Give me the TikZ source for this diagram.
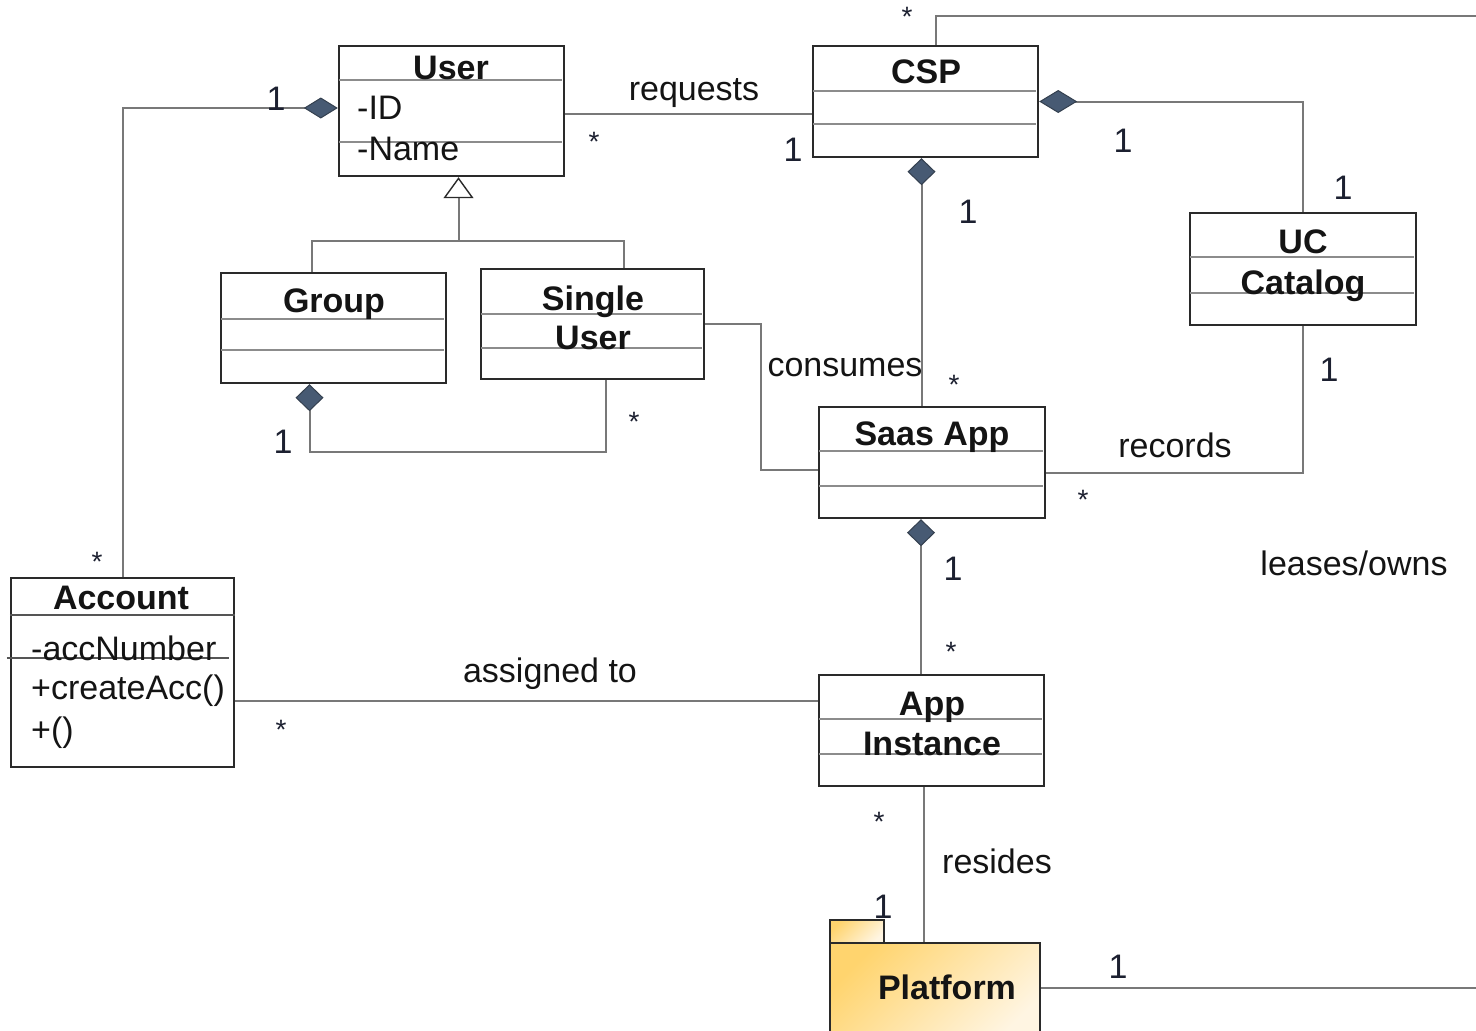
\documentclass[tikz,border=0pt]{standalone}
\usepackage{fontspec}
\setmainfont{Liberation Sans}
\usetikzlibrary{arrows.meta,calc}

\definecolor{boxline}{HTML}{2A2A2A}
\definecolor{sepline}{HTML}{8C8C8C}
\definecolor{conn}{HTML}{787878}
\definecolor{diamfill}{HTML}{475A73}
\definecolor{diamedge}{HTML}{34404F}
\definecolor{ink}{HTML}{141414}
\definecolor{multink}{HTML}{1C2030}
\definecolor{platA}{HTML}{FFD46E}
\definecolor{platB}{HTML}{FFF5E2}

\begin{document}
\begin{tikzpicture}[x=1pt,y=-1pt,
  classbox/.style={draw=boxline, line width=2.4pt, fill=white, inner sep=0pt},
  sep/.style={draw=sepline, line width=2pt},
  title/.style={font=\fontsize{34}{40}\selectfont\bfseries, text=ink, anchor=base, inner sep=0pt},
  attr/.style={font=\fontsize{34}{40}\selectfont, text=ink, anchor=base west, inner sep=0pt},
  lbl/.style={font=\fontsize{34}{40}\selectfont, text=ink, anchor=base, inner sep=0pt},
  mult/.style={font=\fontsize{34}{40}\selectfont, text=multink, anchor=base, inner sep=0pt},
  star/.style={font=\fontsize{28}{32}\selectfont, text=multink, inner sep=0pt},
  assoc/.style={draw=conn, line width=2pt},
  hdiam/.style={arrows={Diamond[length=34pt,width=21pt,fill=diamfill,color=diamedge,line width=1pt]-}},
  hdiambig/.style={arrows={Diamond[length=38pt,width=23pt,fill=diamfill,color=diamedge,line width=1pt]-}},
  vdiam/.style={arrows={Diamond[length=27pt,width=28pt,fill=diamfill,color=diamedge,line width=1pt]-}},
  genarrow/.style={arrows={-Triangle[length=21pt,width=30pt,fill=white,color=boxline,line width=1.4pt]}},
  platbox/.style={draw=boxline, line width=2.2pt, inner sep=0pt,
    top color=platA, bottom color=platB, shading angle=45}
]
\useasboundingbox (0,0) rectangle (1476,1031);

% ---------- classes ----------
\node[classbox, minimum width=225pt, minimum height=130pt] (user)    at (451.5,111)  {};
\node[classbox, minimum width=225pt, minimum height=111pt] (csp)     at (925.5,101.5) {};
\node[classbox, minimum width=225pt, minimum height=110pt] (group)   at (333.5,328)  {};
\node[classbox, minimum width=223pt, minimum height=110pt] (single)  at (592.5,324)  {};
\node[classbox, minimum width=226pt, minimum height=112pt] (uc)      at (1303,269)   {};
\node[classbox, minimum width=226pt, minimum height=111pt] (saas)    at (932,462.5)  {};
\node[classbox, minimum width=225pt, minimum height=111pt] (app)     at (931.5,730.5) {};
\node[classbox, minimum width=223pt, minimum height=189pt] (account) at (122.5,672.5) {};

% compartment separators
\foreach \n/\a/\b in {user/35/97, csp/46/79, group/47/78, single/46/80,
                      uc/45/81, saas/45/80, app/45/80}{
  \draw[sep] ([yshift=-\a pt, xshift=1pt]\n.north west) -- ([yshift=-\a pt, xshift=-3pt]\n.north east);
  \draw[sep] ([yshift=-\b pt, xshift=1pt]\n.north west) -- ([yshift=-\b pt, xshift=-3pt]\n.north east);
}
\draw[sep, draw=boxline!80] ([yshift=-38pt]account.north west) -- ([yshift=-38pt]account.north east);
\draw[sep, draw=boxline!80] ([yshift=-81pt, xshift=-3pt]account.north west) -- ([yshift=-81pt, xshift=-6pt]account.north east);

% package
\node[platbox, minimum width=54pt, minimum height=23pt] (plattab) at (857,931.5) {};
\node[platbox, minimum width=210pt, minimum height=100pt] (platform) at (935,993) {};

% ---------- class texts ----------
\node[title] (tUser)    at (451,79)  {User};
\node[attr]  (aID)      at (357,119) {-ID};
\node[attr]  (aName)    at (357,160) {-Name};
\node[title] (tCSP)     at (926,83)  {CSP};
\node[title] (tGroup)   at (334,312) {Group};
\node[title] (tSingleA) at (593,310) {Single};
\node[title] (tSingleB) at (593,349) {User};
\node[title] (tUCa)     at (1303,253) {UC};
\node[title] (tUCb)     at (1303,294) {Catalog};
\node[title] (tSaas)    at (932,445) {Saas App};
\node[title] (tAppA)    at (932,715) {App};
\node[title] (tAppB)    at (932,755) {Instance};
\node[title] (tAccount) at (121,609) {Account};
\node[attr]  (aAcc)     at (31,660)  {-accNumber};
\node[attr]  (aCreate)  at (31,699)  {+createAcc()};
\node[attr]  (aEmpty)   at (31,741)  {+()};
\node[title] (tPlat)    at (947,999) {Platform};

% ---------- free ends ----------
\coordinate (topR)  at (1476,16);
\coordinate (platR) at (1476,988);
\coordinate (gen)   at (458.5,241);

% ---------- connectors ----------
% User owns Account
\draw[assoc, hdiam] ([yshift=3pt]user.west) -| (account.north);
% requests
\draw[assoc] ([yshift=-3pt]user.east) -- ([yshift=-3pt]user.east -| csp.west);
% CSP leases/owns Platform (routed off the right edge)
\draw[assoc] ([xshift=10pt]csp.north) |- (topR);
\draw[assoc] ([yshift=5pt]platform.east) -- (platR);
% CSP owns UC Catalog
\draw[assoc, hdiambig] (csp.east) -| (uc.north);
% CSP owns Saas App
\draw[assoc, vdiam] ([xshift=-4pt]csp.south) -- ([xshift=-4pt]csp.south |- saas.north);
% generalization of User
\draw[assoc, genarrow] (gen) -- ([xshift=7pt]user.south);
\draw[assoc] ([xshift=-22pt]group.north) |- (gen) -| ([xshift=31pt]single.north);
% Group aggregates Single User
\draw[assoc, vdiam] ([xshift=-24pt]group.south) |- ($(single.south)+(13.5,72)$) -- ([xshift=13.5pt]single.south);
% consumes
\draw[assoc] (single.east) -- ++(56,0) |- ([yshift=-7.5pt]saas.west);
% records
\draw[assoc] (uc.south) |- ([yshift=-10pt]saas.east);
% Saas App owns App Instance
\draw[assoc, vdiam] ([xshift=-11pt]saas.south) -- ([xshift=-11pt]saas.south |- app.north);
% assigned to
\draw[assoc] ([yshift=-28pt]account.east) -- ([yshift=-28pt]account.east -| app.west);
% resides
\draw[assoc] ([xshift=-8pt]app.south) -- ([xshift=-8pt]app.south |- platform.north);

% ---------- association labels ----------
\node[lbl] (lRequests) at (694,100) {requests};
\node[lbl] (lConsumes) at (845,376) {consumes};
\node[lbl] (lRecords)  at (1175,457) {records};
\node[lbl] (lLeases)   at (1354,575) {leases/owns};
\node[lbl] (lAssigned) at (550,682) {assigned to};
\node[lbl] (lResides)  at (997,873) {resides};

% ---------- multiplicities ----------
\node[mult] (m1)  at (276,110) {1};
\node[star] (m2)  at (97,562)  {*};
\node[star] (m3)  at (594,142) {*};
\node[mult] (m4)  at (793,161) {1};
\node[star] (m5)  at (907,17)  {*};
\node[mult] (m6)  at (1123,152) {1};
\node[mult] (m7)  at (1343,199) {1};
\node[mult] (m8)  at (968,223) {1};
\node[star] (m9)  at (954,385) {*};
\node[mult] (m10) at (283,453) {1};
\node[star] (m11) at (634,422) {*};
\node[mult] (m12) at (1329,381) {1};
\node[star] (m13) at (1083,500) {*};
\node[mult] (m14) at (953,580) {1};
\node[star] (m15) at (951,652) {*};
\node[star] (m16) at (281,730) {*};
\node[star] (m17) at (879,822) {*};
\node[mult] (m18) at (883,918) {1};
\node[mult] (m19) at (1118,978) {1};
\end{tikzpicture}
\end{document}
